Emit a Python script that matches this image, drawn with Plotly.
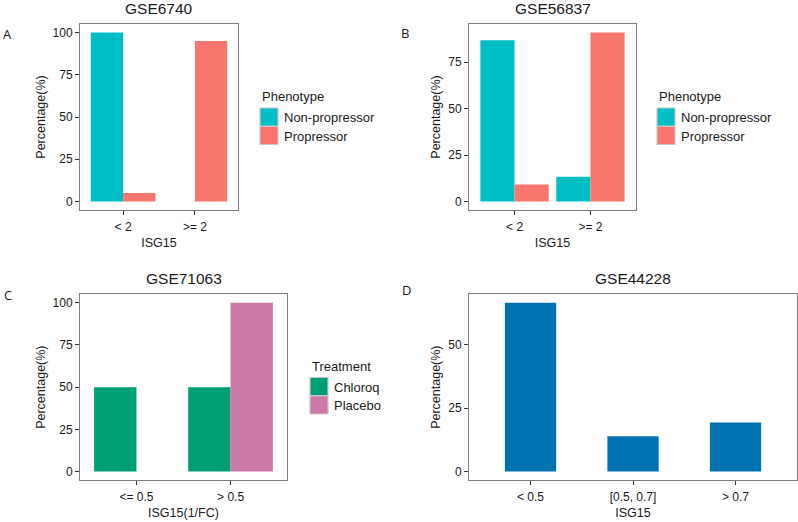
import plotly.graph_objects as go

W, H = 798, 522

# ---------------- data ----------------
isg_cats_ab = ["< 2", ">= 2"]
a_nonprop = [100, 0]
a_prop = [5, 95]
b_nonprop = [86.7, 13.3]
b_prop = [9.1, 90.9]

c_cats = ["<= 0.5", "> 0.5"]
c_chloroq = [50, 50]
c_placebo = [0, 100]

d_cats = ["< 0.5", "[0.5, 0.7]", "> 0.7"]
d_vals = [66.7, 13.9, 19.4]

titles = ["GSE6740", "GSE56837", "GSE71063", "GSE44228"]
panel_letters = ["A", "B", "C", "D"]
phenotype_labels = ["Non-propressor", "Propressor"]
treatment_labels = ["Chloroq", "Placebo"]

TEAL, SALMON = "#00BFC4", "#F8766D"
GREEN, PINK, BLUE = "#009E73", "#CC79A7", "#0072B2"
FONT = "Liberation Sans, Arial, sans-serif"
TXT = "#1a1a1a"

# panel boxes in pixels (left, right, top, bottom)
boxes = {
    1: (80, 238, 24, 210),
    2: (469, 636, 24, 210),
    3: (80, 287, 294.3, 480),
    4: (469, 797, 294.3, 480),
}


def px_x(v):
    return v / W


def px_y(v):
    return 1 - v / H


fig = go.Figure()


def bar(x, y, name, color, xa, ya, width=None):
    fig.add_trace(go.Bar(
        x=x, y=y, name=name, marker=dict(color=color, line=dict(width=0)),
        xaxis=xa, yaxis=ya, showlegend=False, width=width,
    ))


bar(isg_cats_ab, a_nonprop, phenotype_labels[0], TEAL, "x", "y")
bar(isg_cats_ab, a_prop, phenotype_labels[1], SALMON, "x", "y")
bar(isg_cats_ab, b_nonprop, phenotype_labels[0], TEAL, "x2", "y2")
bar(isg_cats_ab, b_prop, phenotype_labels[1], SALMON, "x2", "y2")
bar(c_cats, c_chloroq, treatment_labels[0], GREEN, "x3", "y3")
bar(c_cats, c_placebo, treatment_labels[1], PINK, "x3", "y3")
bar(d_cats, d_vals, "ISG15", BLUE, "x4", "y4", width=0.5)

axis_common = dict(
    showline=True, mirror=True, linecolor="#7F7F7F", linewidth=1,
    ticks="outside", ticklen=4, tickcolor="#333333", tickwidth=1,
    showgrid=False, zeroline=False,
    tickfont=dict(family=FONT, size=12, color=TXT),
    title_font=dict(family=FONT, size=12.5, color=TXT),
)

yranges = {1: [-5, 105], 2: [-4.55, 95.5], 3: [-5, 105], 4: [-3.33, 70]}
yticks = {1: [0, 25, 50, 75, 100], 2: [0, 25, 50, 75], 3: [0, 25, 50, 75, 100], 4: [0, 25, 50]}
xtitles = {1: "ISG15", 2: "ISG15", 3: "ISG15(1/FC)", 4: "ISG15"}
ncats = {1: 2, 2: 2, 3: 2, 4: 3}

layout = dict(
    width=W, height=H, margin=dict(l=0, r=0, t=0, b=0),
    paper_bgcolor="white", plot_bgcolor="white",
    barmode="group", bargap=0.1, bargroupgap=0,
    font=dict(family=FONT, size=12, color=TXT),
    showlegend=False,
)

for i in range(1, 5):
    l, r, t, b = boxes[i]
    sfx = "" if i == 1 else str(i)
    layout["xaxis" + sfx] = dict(
        axis_common, domain=[px_x(l), px_x(r)], anchor="y" + sfx,
        range=[-0.6, ncats[i] - 0.4], ticklabelstandoff=2,
        title=dict(text=xtitles[i], standoff=4),
    )
    layout["yaxis" + sfx] = dict(
        axis_common, domain=[px_y(b), px_y(t)], anchor="x" + sfx,
        range=yranges[i], tickvals=yticks[i],
        title=dict(text="Percentage(%)", standoff=4),
    )

fig.update_layout(**layout)

# ---------- legends (ggplot-style keys) ----------
def legend(x0, y_title, title, labels, colors, key_top):
    fig.add_annotation(text=title, xref="paper", yref="paper",
                       x=px_x(x0), y=px_y(y_title), showarrow=False,
                       xanchor="left", yanchor="middle",
                       font=dict(family=FONT, size=13, color=TXT))
    k = 18.5
    for j, (lab, col) in enumerate(zip(labels, colors)):
        top = key_top + j * k
        fig.add_shape(type="rect", xref="paper", yref="paper",
                      x0=px_x(x0), x1=px_x(x0 + 18), y0=px_y(top + 18), y1=px_y(top),
                      fillcolor=col, line=dict(color="#C8C8C8", width=1.2))
        fig.add_annotation(text=lab, xref="paper", yref="paper",
                           x=px_x(x0 + 22), y=px_y(top + 9.5), showarrow=False,
                           xanchor="left", yanchor="middle",
                           font=dict(family=FONT, size=13, color=TXT))


legend(260, 96, "Phenotype", phenotype_labels, [TEAL, SALMON], 108)
legend(657, 96, "Phenotype", phenotype_labels, [TEAL, SALMON], 108)
legend(310, 366, "Treatment", treatment_labels, [GREEN, PINK], 377.5)

# titles and panel letters
for i in range(1, 5):
    l, r, t, b = boxes[i]
    fig.add_annotation(text=titles[i - 1], xref="paper", yref="paper",
                       x=px_x((l + r) / 2), y=px_y(t - 16), showarrow=False,
                       font=dict(family=FONT, size=15.5, color=TXT),
                       xanchor="center", yanchor="middle")

letter_pos = {1: (7, 34), 2: (405, 33), 3: (8, 295), 4: (406, 290)}
for i in range(1, 5):
    x, y = letter_pos[i]
    fig.add_annotation(text=panel_letters[i - 1], xref="paper", yref="paper",
                       x=px_x(x), y=px_y(y), showarrow=False,
                       font=dict(family="Open Sans, DejaVu Sans, sans-serif", size=13, color=TXT),
                       xanchor="center", yanchor="middle")

fig.write_html("out.html", post_script="document.body.style.margin='0';",
               config={"displayModeBar": False})
